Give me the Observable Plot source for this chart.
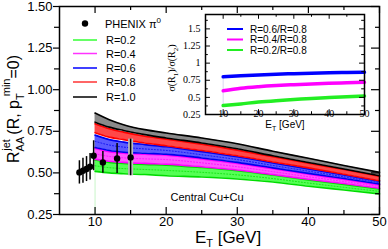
<!DOCTYPE html>
<html><head><meta charset="utf-8">
<script src="https://cdn.jsdelivr.net/npm/d3@7"></script>
<script src="https://cdn.jsdelivr.net/npm/@observablehq/plot@0.6"></script>
<style>
body{margin:0;background:#fff;}
#wrap{position:relative;width:388px;height:249px;overflow:hidden;font-family:"Liberation Sans",Arial,sans-serif;}
#wrap svg{position:absolute;left:0;top:0;overflow:visible;}
</style></head><body><div id="wrap"></div>
<script>
// ---- main panel data ----
const energies = [10, 12, 14, 17, 20, 25, 30, 35, 40, 45, 50];
const r10Hi = [0.860, 0.820, 0.790, 0.760, 0.740, 0.710, 0.675, 0.630, 0.588, 0.545, 0.503];
const r10Lo = [0.805, 0.775, 0.755, 0.730, 0.710, 0.680, 0.645, 0.603, 0.563, 0.523, 0.483];
const r08Hi = [0.795, 0.765, 0.745, 0.720, 0.703, 0.673, 0.637, 0.597, 0.558, 0.520, 0.480];
const r08Lo = [0.742, 0.715, 0.700, 0.680, 0.663, 0.635, 0.603, 0.566, 0.530, 0.492, 0.453];
const r06Hi = [0.727, 0.700, 0.685, 0.670, 0.657, 0.628, 0.597, 0.560, 0.524, 0.487, 0.450];
const r06Lo = [0.653, 0.635, 0.625, 0.618, 0.613, 0.590, 0.563, 0.530, 0.497, 0.466, 0.433];
const r04Hi = [0.647, 0.628, 0.618, 0.612, 0.607, 0.584, 0.557, 0.525, 0.492, 0.460, 0.428];
const r04Lo = [0.583, 0.570, 0.563, 0.557, 0.553, 0.537, 0.517, 0.490, 0.462, 0.436, 0.408];
const r02Hi = [0.577, 0.563, 0.557, 0.551, 0.547, 0.532, 0.513, 0.487, 0.458, 0.430, 0.404];
const r02Lo = [0.509, 0.500, 0.495, 0.490, 0.483, 0.475, 0.463, 0.445, 0.420, 0.397, 0.374];

const phenixE   = [7.8, 8.3, 8.8, 9.3, 9.8, 11.1, 13.1, 15.0];
const phenixV   = [0.503, 0.513, 0.523, 0.537, 0.603, 0.563, 0.587, 0.593];
const phenixErr = [0.070, 0.075, 0.075, 0.080, 0.090, 0.065, 0.090, 0.110];

const legendLabels = ["R=0.2", "R=0.4", "R=0.6", "R=0.8", "R=1.0"];
const xTickLabels = [10, 20, 30, 40, 50];
const yTickLabels = [0.25, 0.50, 0.75, 1.00, 1.25, 1.50];

// ---- inset data ----
const insetE  = [10, 15, 20, 25, 30, 35, 40, 45, 50];
const ratio06 = [0.800, 0.815, 0.828, 0.838, 0.846, 0.853, 0.859, 0.864, 0.867];
const ratio04 = [0.596, 0.632, 0.655, 0.672, 0.685, 0.696, 0.705, 0.713, 0.720];
const ratio02 = [0.380, 0.405, 0.432, 0.452, 0.468, 0.485, 0.498, 0.510, 0.520];
const insetLabels = ["R=0.6/R=0.8", "R=0.4/R=0.8", "R=0.2/R=0.8"];
const insetXTicks = [10, 20, 30, 40, 50];
const insetYTicks = [0.25, 0.5, 0.75, 1, 1.25, 1.5];

// ---- build tables ----
const bandDefs = [
  {R: "R=0.2", hi: r02Hi, lo: r02Lo, fill: "#55ff55", edge: "#00dd00"},
  {R: "R=0.4", hi: r04Hi, lo: r04Lo, fill: "#ff55ff", edge: "#ff00ff"},
  {R: "R=0.6", hi: r06Hi, lo: r06Lo, fill: "#5a5aff", edge: "#0000ee"},
  {R: "R=0.8", hi: r08Hi, lo: r08Lo, fill: "#ff4848", edge: "#ff0000"},
  {R: "R=1.0", hi: r10Hi, lo: r10Lo, fill: "#8a8a8a", edge: "#000000"}
];
const bandRows = bandDefs.flatMap(b => energies.map((e, i) => ({R: b.R, E: e, hi: b.hi[i], lo: b.lo[i], mid: (b.hi[i] + b.lo[i]) / 2})));
const phenix = phenixE.map((e, i) => ({E: e, v: phenixV[i], err: phenixErr[i]}));
const insetDefs = [
  {name: insetLabels[0], vals: ratio06, color: "#0000ff"},
  {name: insetLabels[1], vals: ratio04, color: "#ff00ff"},
  {name: insetLabels[2], vals: ratio02, color: "#22ee22"}
];
const insetRows = insetDefs.flatMap(d => insetE.map((e, i) => ({name: d.name, E: e, r: d.vals[i]})));

// ---- main geometry ----
const W = 388, H = 249, mL = 59, mR = 9, mT = 6, mB = 35;
const xDom = [5, 50], yDom = [0.25, 1.5];
const kx = (xDom[1] - xDom[0]) / (W - mL - mR);
const ky = (yDom[1] - yDom[0]) / (H - mT - mB);
const xMin = [15, 25, 35, 45];
const yMin = d3.range(0.375, 1.5, 0.25);

const main = Plot.plot({
  width: W, height: H, marginLeft: mL, marginRight: mR, marginTop: mT, marginBottom: mB,
  x: {domain: xDom, axis: null, label: null},
  y: {domain: yDom, axis: null, label: null},
  style: {fontFamily: "Liberation Sans, Arial, sans-serif", fontSize: "13px", background: "transparent"},
  marks: [
    Plot.ruleX([10], {y1: 0.25, y2: r02Lo[0], stroke: "#c8f5c8", strokeWidth: 1}),
    ...bandDefs.map(b => Plot.areaY(bandRows.filter(d => d.R === b.R), {x: "E", y1: "lo", y2: "hi", fill: b.fill, curve: "monotone-x"})),
    ...bandDefs.filter(b => b.R !== "R=1.0" && b.R !== "R=0.8").map(b => Plot.lineY(bandRows.filter(d => d.R === b.R), {x: "E", y: "mid", stroke: b.edge, strokeWidth: 0.8, strokeDasharray: "1,2", curve: "monotone-x"})),
    ...bandDefs.map(b => Plot.lineY(bandRows.filter(d => d.R === b.R), {x: "E", y: "hi", stroke: b.edge, strokeWidth: 1.6, curve: "monotone-x"})),
    ...bandDefs.map(b => Plot.lineY(bandRows.filter(d => d.R === b.R), {x: "E", y: "lo", stroke: b.edge, strokeWidth: 1.6, curve: "monotone-x"})),
    Plot.ruleX(phenix.slice(-1), {x: "E", y1: d => d.v - d.err, y2: d => d.v + d.err, stroke: "#bbbbbb", strokeWidth: 5}),
    Plot.ruleX(phenix, {x: "E", y1: d => d.v - d.err, y2: d => d.v + d.err, stroke: "#000", strokeWidth: 1.5}),
    Plot.dot(phenix, {x: "E", y: "v", r: 3.2, fill: "#000"}),
    Plot.frame({stroke: "#000", strokeWidth: 1.5}),
    // ticks
    Plot.ruleX(xTickLabels, {y1: yDom[0], y2: yDom[0] + 7 * ky, stroke: "#000", strokeWidth: 1.2}),
    Plot.ruleX(xMin, {y1: yDom[0], y2: yDom[0] + 4 * ky, stroke: "#000", strokeWidth: 1.2}),
    Plot.ruleX(xTickLabels, {y1: yDom[1], y2: yDom[1] - 7 * ky, stroke: "#000", strokeWidth: 1.2}),
    Plot.ruleX(xMin, {y1: yDom[1], y2: yDom[1] - 4 * ky, stroke: "#000", strokeWidth: 1.2}),
    Plot.ruleY(yTickLabels, {x1: xDom[0] - 6 * kx, x2: xDom[0], stroke: "#000", strokeWidth: 1.2}),
    Plot.ruleY(yMin, {x1: xDom[0] - 5 * kx, x2: xDom[0], stroke: "#000", strokeWidth: 1.2}),
    Plot.ruleY(yTickLabels, {x1: xDom[1] - 8 * kx, x2: xDom[1], stroke: "#000", strokeWidth: 1.2}),
    Plot.ruleY(yMin, {x1: xDom[1] - 4 * kx, x2: xDom[1], stroke: "#000", strokeWidth: 1.2}),
    Plot.axisX(xTickLabels, {anchor: "bottom", tickSize: 0, tickPadding: 2, fontSize: 13, fill: "#000", label: null}),
    Plot.axisY(yTickLabels, {anchor: "left", tickSize: 0, tickPadding: 7, fontSize: 13, fill: "#000", label: null, tickFormat: d3.format(".2f")})
  ]
});
document.getElementById("wrap").appendChild(main);

// ---- inset ----
const iLeft = 160, iTop = 10;
const iTopVal = 1.71;
const inset = Plot.plot({
  width: 210, height: 120, marginLeft: 45, marginRight: 6, marginTop: 4, marginBottom: 16,
  x: {domain: [5, 50], axis: null, label: null},
  y: {domain: [0.25, iTopVal], axis: null, label: null},
  color: {domain: insetDefs.map(d => d.name), range: insetDefs.map(d => d.color)},
  style: {fontFamily: "Liberation Serif, Times New Roman, serif", fontSize: "10px", background: "transparent"},
  marks: [
    Plot.ruleX([10], {y1: ratio02[0], y2: ratio06[0], stroke: "#d8d8f0", strokeWidth: 1}),
    Plot.lineY(insetRows, {x: "E", y: "r", z: "name", stroke: "name", strokeWidth: 3.5, curve: "monotone-x"}),
    Plot.frame({stroke: "#000", strokeWidth: 1.5}),
    Plot.ruleX(insetXTicks, {y1: 0.25, y2: 0.25 + 0.07, stroke: "#000"}),
    Plot.ruleX(xMin, {y1: 0.25, y2: 0.25 + 0.04, stroke: "#000"}),
    Plot.ruleX(insetXTicks, {y1: iTopVal, y2: iTopVal - 0.07, stroke: "#000"}),
    Plot.ruleX(xMin, {y1: iTopVal, y2: iTopVal - 0.04, stroke: "#000"}),
    Plot.ruleY(insetYTicks, {x1: 5, x2: 5 + 1.4, stroke: "#000"}),
    Plot.ruleY(d3.range(0.375, 1.71, 0.25), {x1: 5, x2: 5 + 0.8, stroke: "#000"}),
    Plot.ruleY(insetYTicks, {x1: 50, x2: 50 - 1.4, stroke: "#000"}),
    Plot.ruleY(d3.range(0.375, 1.71, 0.25), {x1: 50, x2: 50 - 0.8, stroke: "#000"}),
    Plot.axisX(insetXTicks, {anchor: "bottom", tickSize: 0, tickPadding: 0, dy: -5, fontSize: 10, fill: "#000", label: null}),
    Plot.axisY(insetYTicks, {anchor: "left", tickSize: 0, tickPadding: 5, fontSize: 10, fill: "#000", label: null, tickFormat: d => String(d)})
  ]
});
inset.style.left = iLeft + "px";
inset.style.top = iTop + "px";
document.getElementById("wrap").appendChild(inset);

// ---- overlay: legends and axis titles ----
const ov = d3.select("#wrap").append("svg").attr("width", W).attr("height", H)
  .style("font-family", "Liberation Sans, Arial, sans-serif");

// main legend
const lg = ov.append("g");
lg.append("circle").attr("cx", 85).attr("cy", 23.5).attr("r", 3.2).attr("fill", "#000");
const t0 = lg.append("text").attr("x", 105).attr("y", 27.5).attr("font-size", 11).attr("fill", "#000");
t0.append("tspan").text("PHENIX \u03c0");
t0.append("tspan").attr("font-size", 8).attr("dy", -5).text("0");
const legendColors = ["#33ff33", "#ff33ff", "#0000ff", "#ff3333", "#000000"];
const legendYs = [40, 53.5, 68, 82, 97];
legendLabels.forEach((lab, i) => {
  lg.append("line").attr("x1", 73).attr("x2", 97).attr("y1", legendYs[i]).attr("y2", legendYs[i])
    .attr("stroke", legendColors[i]).attr("stroke-width", 1.5);
  lg.append("text").attr("x", 106).attr("y", legendYs[i] + 4).attr("font-size", 11).attr("fill", "#000").text(lab);
});

// inset legend
insetDefs.forEach((d, i) => {
  const y = [29, 39.5, 50][i];
  ov.append("line").attr("x1", 227).attr("x2", 243).attr("y1", y).attr("y2", y).attr("stroke", d.color).attr("stroke-width", 2);
  ov.append("text").attr("x", 250).attr("y", y + 3.5).attr("font-size", 10).attr("fill", "#000").text(d.name);
});

// Central Cu+Cu
ov.append("text").attr("x", 207).attr("y", 201).attr("text-anchor", "middle").attr("font-size", 11).attr("fill", "#000").text("Central Cu+Cu");

// main x title
const xt = ov.append("text").attr("transform", "translate(228,243)").attr("text-anchor", "middle").attr("font-size", 17).attr("fill", "#000");
xt.append("tspan").text("E");
xt.append("tspan").attr("font-size", 11).attr("dy", 4).text("T");
xt.append("tspan").attr("dy", -4).text(" [GeV]");

// main y title
const yt = ov.append("text").attr("transform", "translate(19,163) rotate(-90)").attr("font-size", 16).attr("fill", "#000");
yt.append("tspan").text("R");
yt.append("tspan").attr("font-size", 11).attr("dy", 5).text("AA");
yt.append("tspan").attr("font-size", 11).attr("dx", -14).attr("dy", -14).text("jet");
yt.append("tspan").attr("dy", 9).text(" (R, p");
yt.append("tspan").attr("font-size", 11).attr("dy", 5).text("T");
yt.append("tspan").attr("font-size", 11).attr("dx", -3).attr("dy", -14).text("min");
yt.append("tspan").attr("dy", 9).text("=0)");

// inset x title
const ixt = ov.append("text").attr("transform", "translate(285,128)").attr("text-anchor", "middle").attr("font-size", 10).attr("fill", "#000");
ixt.append("tspan").text("E");
ixt.append("tspan").attr("font-size", 7).attr("dy", 3).text("T");
ixt.append("tspan").attr("dy", -3).text(" [GeV]");

// inset y title
const iyt = ov.append("text").attr("transform", "translate(175,68) rotate(-90)").attr("text-anchor", "middle").attr("font-size", 10).attr("fill", "#000")
  .style("font-family", "Liberation Serif, serif");
iyt.append("tspan").text("\u03c3(R");
iyt.append("tspan").attr("font-size", 7).attr("dy", 3).text("1");
iyt.append("tspan").attr("dy", -3).text(")/\u03c3(R");
iyt.append("tspan").attr("font-size", 7).attr("dy", 3).text("2");
iyt.append("tspan").attr("dy", -3).text(")");
</script></body></html>
